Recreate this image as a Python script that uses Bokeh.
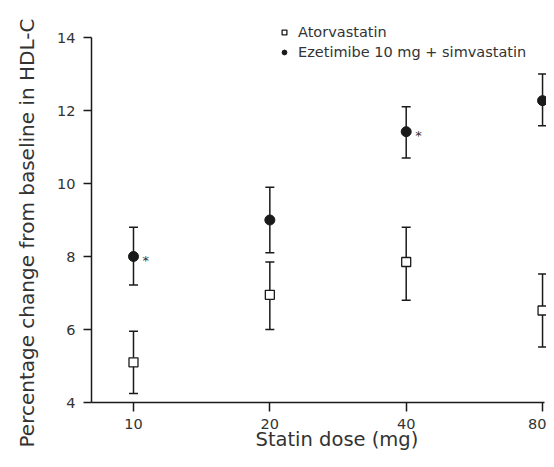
from bokeh.plotting import figure
from bokeh.models import (ColumnDataSource, Whisker, TeeHead, FixedTicker, Legend,
                          LegendItem, Title)
from bokeh.core.properties import value
from bokeh.embed import file_html
from bokeh.resources import INLINE

# ---- data ----
doses = ["10", "20", "40", "80"]
dose_pos = [0, 1, 2, 3]

ator_mean = [5.1, 6.95, 7.85, 6.52]
ator_low = [4.25, 6.0, 6.8, 5.52]
ator_high = [5.95, 7.85, 8.8, 7.52]

ezet_mean = [8.0, 9.0, 11.42, 12.27]
ezet_low = [7.22, 8.1, 10.7, 11.58]
ezet_high = [8.8, 9.9, 12.1, 13.0]
ezet_signif = ["*", "", "*", "*"]

y_ticks = [4, 6, 8, 10, 12, 14]

FONT = "DejaVu Sans"
TXT = "#333333"
INK = "#1a1a1a"

src_a = ColumnDataSource(dict(x=dose_pos, y=ator_mean, lo=ator_low, hi=ator_high))
src_e = ColumnDataSource(dict(x=dose_pos, y=ezet_mean, lo=ezet_low, hi=ezet_high,
                              star=ezet_signif))

p = figure(width=546, height=458, output_backend="svg", toolbar_location=None,
           x_range=(-0.308, 3.029), y_range=(4, 14.877),
           min_border_left=91, min_border_right=0, min_border_top=5,
           min_border_bottom=56)
p.frame_width = 455
p.frame_height = 397
p.outline_line_color = None
p.grid.visible = False
p.background_fill_color = "white"

for src in (src_a, src_e):
    w = Whisker(base="x", lower="lo", upper="hi", source=src,
                line_color=INK, line_width=1.5,
                upper_head=TeeHead(size=9, line_color=INK, line_width=1.5),
                lower_head=TeeHead(size=9, line_color=INK, line_width=1.5))
    p.add_layout(w)

r_a = p.scatter("x", "y", source=src_a, marker="square", size=9,
                fill_color="white", line_color=INK, line_width=1.3)
r_e = p.scatter("x", "y", source=src_e, marker="circle", size=10,
                fill_color=INK, line_color=INK)

p.text("x", "y", text="star", source=src_e, x_offset=9, y_offset=4,
       text_font=value(FONT), text_font_size="13px", text_color=TXT,
       text_baseline="middle", text_align="left")

# axes
p.xaxis.ticker = FixedTicker(ticks=dose_pos)
p.xaxis.major_label_overrides = {i: d for i, d in zip(dose_pos, doses)}
p.xaxis.bounds = (-0.308, 3.012)
p.yaxis.ticker = FixedTicker(ticks=y_ticks)
p.yaxis.bounds = (4, 14)
for ax in (p.xaxis[0], p.yaxis[0]):
    ax.axis_line_color = INK
    ax.axis_line_width = 1.5
    ax.major_tick_line_color = INK
    ax.major_tick_line_width = 1.5
    ax.major_tick_in = 0
    ax.minor_tick_line_color = None
    ax.major_label_text_font = FONT
    ax.major_label_text_font_size = "14.5px"
    ax.major_label_text_color = TXT

p.xaxis.major_tick_out = 9
p.xaxis.major_label_standoff = 7
p.yaxis.major_tick_out = 8
p.yaxis.major_label_standoff = 8

# axis titles (placed as side-panel titles so they can be offset like the reference)
ytitle = Title(text="Percentage change from baseline in HDL-C", align="left",
               offset=-45, standoff=27, vertical_align="top",
               text_font=FONT, text_font_size="20px", text_font_style="normal",
               text_color=TXT)
p.add_layout(ytitle, "left")

xtitle = Title(text="Statin dose (mg)", align="left", offset=164, standoff=-8,
               vertical_align="top",
               text_font=FONT, text_font_size="19.5px", text_font_style="normal",
               text_color=TXT)
p.add_layout(xtitle, "below")

legend = Legend(items=[LegendItem(label="Atorvastatin", renderers=[r_a]),
                       LegendItem(label="Ezetimibe 10 mg + simvastatin", renderers=[r_e])],
                location=(187, 342), padding=0, margin=0, spacing=4,
                glyph_width=12, glyph_height=14, label_height=14, label_standoff=8,
                label_text_font=FONT, label_text_font_size="14.5px",
                label_text_color=TXT, background_fill_alpha=0,
                border_line_color=None)
p.add_layout(legend)

open("out.html", "w").write(file_html(p, INLINE))
